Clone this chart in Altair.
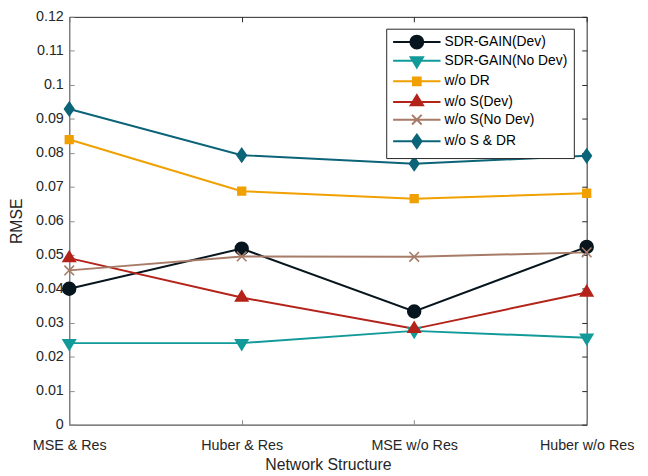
import altair as alt
import pandas as pd

cats = ["MSE & Res", "Huber & Res", "MSE w/o Res", "Huber w/o Res"]
names = ["SDR-GAIN(Dev)", "SDR-GAIN(No Dev)", "w/o DR", "w/o S(Dev)", "w/o S(No Dev)", "w/o S & DR"]
sdr_dev = [0.0400, 0.0518, 0.0333, 0.0523]
sdr_nodev = [0.0240, 0.0240, 0.0276, 0.0256]
wo_dr = [0.0839, 0.0687, 0.0665, 0.0681]
wo_s_dev = [0.0490, 0.0374, 0.0282, 0.0389]
wo_s_nodev = [0.0454, 0.0495, 0.0494, 0.0507]
wo_s_dr = [0.0929, 0.0793, 0.0768, 0.0791]
y_ticks = [0, 0.01, 0.02, 0.03, 0.04, 0.05, 0.06, 0.07, 0.08, 0.09, 0.1, 0.11, 0.12]

colors = ["#07151e", "#129a9a", "#f0a000", "#b3231a", "#a77b67", "#0b6478"]

series = [sdr_dev, sdr_nodev, wo_dr, wo_s_dev, wo_s_nodev, wo_s_dr]
rows = []
for n, vals in zip(names, series):
    for c, v in zip(cats, vals):
        rows.append({"series": n, "structure": c, "rmse": v})
df = pd.DataFrame(rows)


def circle(cx, r):
    return f"M{cx - r},0A{r},{r},0,1,0,{cx + r},0A{r},{r},0,1,0,{cx - r},0Z"

def tri_down(cx):
    return f"M{cx - 0.96},-0.53L{cx + 0.96},-0.53L{cx},1.07Z"

def square(cx):
    return f"M{cx - 0.6},-0.6L{cx + 0.6},-0.6L{cx + 0.6},0.6L{cx - 0.6},0.6Z"

def tri_up(cx):
    return f"M{cx - 0.96},0.53L{cx + 0.96},0.53L{cx},-1.07Z"

def xmark(cx):
    return f"M{cx - 0.75},-0.75L{cx + 0.75},0.75M{cx - 0.75},0.75L{cx + 0.75},-0.75"

def diamond(cx):
    return f"M{cx},-1.04L{cx + 0.73},0L{cx},1.04L{cx - 0.73},0Z"

def shapes(cx):
    return [circle(cx, 1.0), tri_down(cx), square(cx), tri_up(cx), xmark(cx), diamond(cx)]

plot_shapes = shapes(0)
LINE = "M-1,0L6.385,0"
legend_shapes = [LINE + s for s in shapes(2.692)]

FONT = "Liberation Sans, Arial, Helvetica, sans-serif"
W, H = 524, 413
GRAY = "#8c8c8c"
DARK = "#262626"

xscale = alt.Scale(type="point", domain=cats, padding=0)
yscale = alt.Scale(domain=[0, 0.12], nice=False, zero=True)

base = alt.Chart(df)

lines = base.mark_line(strokeWidth=2).encode(
    x=alt.X("structure:N", sort=cats, scale=xscale,
            axis=alt.Axis(orient="bottom", title="Network Structure", labelAngle=0,
                          ticks=False, tickSize=0, labelPadding=14, domainColor=GRAY,
                          labelFont=FONT, labelFontSize=14.5, labelColor=DARK,
                          titleFont=FONT, titleFontSize=16, titleFontWeight="normal",
                          titleColor=DARK, titleY=40, titleBaseline="middle", grid=False)),
    y=alt.Y("rmse:Q", scale=yscale,
            axis=alt.Axis(orient="left", title="RMSE", values=y_ticks, format="~g",
                          ticks=False, tickSize=0, labelPadding=6, domainColor=GRAY,
                          labelFont=FONT, labelFontSize=14.5, labelColor=DARK,
                          titleFont=FONT, titleFontSize=16, titleFontWeight="normal",
                          titleColor=DARK, titleX=-53, titleBaseline="middle", grid=False)),
    color=alt.Color("series:N", scale=alt.Scale(domain=names, range=colors), legend=None),
    detail="series:N",
)

points = base.mark_point(filled=True, size=169, strokeWidth=1.6, opacity=1).encode(
    x=alt.X("structure:N", sort=cats, scale=xscale,
            axis=alt.Axis(orient="top", offset=-H, labels=False, domain=False, ticks=True,
                          tickSize=5, tickColor=GRAY, title=None, grid=False)),
    y=alt.Y("rmse:Q", scale=yscale,
            axis=alt.Axis(orient="right", offset=-W, labels=False, domain=False, ticks=True,
                          tickSize=5, tickColor=GRAY, title=None, grid=False, values=y_ticks)),
    shape=alt.Shape("series:N", scale=alt.Scale(domain=names, range=plot_shapes), legend=None),
    fill=alt.Fill("series:N", scale=alt.Scale(domain=names, range=colors), legend=None),
    stroke=alt.Stroke("series:N", scale=alt.Scale(domain=names, range=colors), legend=None),
)

leg = alt.Legend(orient="none", legendX=321, legendY=12, title=None, padding=6,
                 rowPadding=0.9, labelOffset=38, symbolSize=169, symbolStrokeWidth=2,
                 symbolOpacity=1, strokeColor=DARK, fillColor="white",
                 labelFont=FONT, labelFontSize=14, labelColor="#000000", labelLimit=0)

legend_layer = base.transform_filter("false").mark_point(
    filled=True, size=169, strokeWidth=2, opacity=1).encode(
    x=alt.X("structure:N", sort=cats, scale=xscale,
            axis=alt.Axis(orient="bottom", offset=-H, labels=False, domain=False, ticks=True,
                          tickSize=5, tickColor=DARK, title=None, grid=False)),
    y=alt.Y("rmse:Q", scale=yscale,
            axis=alt.Axis(orient="left", offset=-W, labels=False, domain=False, ticks=True,
                          tickSize=5, tickColor=DARK, title=None, grid=False, values=y_ticks)),
    shape=alt.Shape("series:N", scale=alt.Scale(domain=names, range=legend_shapes), legend=leg),
    fill=alt.Fill("series:N", scale=alt.Scale(domain=names, range=colors), legend=leg),
    stroke=alt.Stroke("series:N", scale=alt.Scale(domain=names, range=colors), legend=leg),
)

chart = alt.layer(lines, points, legend_layer).resolve_scale(
    x="independent", y="independent", shape="independent", fill="independent", stroke="independent"
).resolve_axis(x="independent", y="independent").resolve_legend(
    shape="independent", fill="independent", stroke="independent"
).properties(
    width=W, height=H,
    autosize=alt.AutoSizeParams(type="none"),
    padding={"left": 62, "top": 6, "right": 54, "bottom": 49},
    background="white",
).configure_view(stroke=DARK, strokeWidth=1)

chart.save("out.html", embed_options={"renderer": "svg", "actions": False})
